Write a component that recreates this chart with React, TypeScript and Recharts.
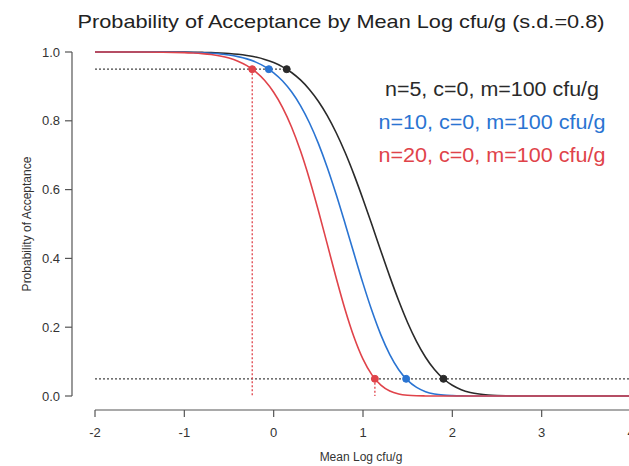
import React from "react";
import { ComposedChart, Line, XAxis, YAxis, ReferenceLine, ReferenceDot } from "recharts";

const meanLog = [-2, -1.5, -1.0, -0.9, -0.8, -0.7, -0.6, -0.5, -0.4, -0.3, -0.2, -0.1, 0.0, 0.1, 0.2, 0.3, 0.4, 0.5, 0.6, 0.7, 0.8, 0.9, 1.0, 1.1, 1.2, 1.3, 1.4, 1.5, 1.6, 1.7, 1.8, 1.9, 2.0, 2.1, 2.2, 2.3, 2.4, 2.5, 2.6, 2.8, 3.0, 3.5, 4.0];
const paN5 = [1.0, 1.0, 0.9996, 0.9993, 0.9988, 0.9982, 0.9971, 0.9956, 0.9933, 0.9899, 0.9852, 0.9785, 0.9693, 0.9569, 0.9404, 0.9188, 0.8913, 0.857, 0.8151, 0.7653, 0.7077, 0.6429, 0.5722, 0.4976, 0.4216, 0.347, 0.2767, 0.213, 0.1581, 0.1127, 0.0769, 0.0502, 0.0313, 0.0185, 0.0104, 0.0056, 0.0028, 0.0013, 0.0006, 0.0001, 0, 0, 0];
const paN10 = [1.0, 1.0, 0.9991, 0.9986, 0.9977, 0.9963, 0.9943, 0.9912, 0.9866, 0.98, 0.9706, 0.9575, 0.9396, 0.9157, 0.8843, 0.8442, 0.7944, 0.7344, 0.6644, 0.5857, 0.5008, 0.4133, 0.3274, 0.2476, 0.1777, 0.1204, 0.0765, 0.0454, 0.025, 0.0127, 0.0059, 0.0025, 0.001, 0.0003, 0.0001, 0, 0, 0, 0, 0, 0, 0, 0];
const paN20 = [1.0, 0.9999, 0.9982, 0.9971, 0.9954, 0.9927, 0.9885, 0.9824, 0.9733, 0.9604, 0.9421, 0.9169, 0.8829, 0.8385, 0.782, 0.7127, 0.6311, 0.5393, 0.4414, 0.3431, 0.2509, 0.1708, 0.1072, 0.0613, 0.0316, 0.0145, 0.0059, 0.0021, 0.0006, 0.0002, 0, 0, 0, 0, 0, 0, 0, 0, 0, 0, 0, 0, 0];

const seriesKeys = ["n5", "n10", "n20"];
const seriesLabels = ["n=5, c=0, m=100 cfu/g", "n=10, c=0, m=100 cfu/g", "n=20, c=0, m=100 cfu/g"];
const seriesColors = ["#2a2a2a", "#2a74d2", "#e0434a"];
const accept95X = [0.146, -0.054, -0.24];
const reject05X = [1.901, 1.483, 1.133];
const xTicks = [-2, -1, 0, 1, 2, 3, 4];
const yTicks = [0, 0.2, 0.4, 0.6, 0.8, 1.0];

const data = meanLog.map((x, i) => ({ x, n5: paN5[i], n10: paN10[i], n20: paN20[i] }));

const FONT = "'Liberation Sans', Arial, sans-serif";
const AXIS_COLOR = "#555";
const TEXT_COLOR = "#333";
const legendWidths = [214, 227, 227];

const YTick = (props: any) => {
  const { x, y, payload } = props;
  return (
    <g>
      <line x1={x - 23} x2={x - 30} y1={y} y2={y} stroke={AXIS_COLOR} strokeWidth={1.2} />
      <text x={x - 35} y={y} dy="0.35em" textAnchor="end" fontSize={13} fill={TEXT_COLOR} fontFamily={FONT}>
        {Number(payload.value).toFixed(1)}
      </text>
    </g>
  );
};

const XTick = (props: any) => {
  const { x, y, payload } = props;
  return (
    <g>
      <line x1={x} x2={x} y1={y + 14} y2={y + 21} stroke={AXIS_COLOR} strokeWidth={1.2} />
      <text x={x} y={y + 41} textAnchor="middle" fontSize={13} fill={TEXT_COLOR} fontFamily={FONT}>
        {payload.value}
      </text>
    </g>
  );
};

export default function App() {
  return (
    <div style={{ position: "fixed", left: 0, top: 0, width: 629, height: 466, overflow: "hidden", background: "#fff" }}>
      <ComposedChart width={640} height={466} data={data} margin={{ top: 52, right: 9, bottom: 0, left: 0 }}>
        <XAxis
          type="number"
          dataKey="x"
          domain={[-2, 4]}
          ticks={xTicks}
          interval={0}
          axisLine={false}
          tickLine={false}
          tickSize={0}
          tickMargin={0}
          height={70}
          tick={<XTick />}
        />
        <YAxis
          type="number"
          domain={[0, 1]}
          ticks={yTicks}
          interval={0}
          axisLine={false}
          tickLine={false}
          tickSize={0}
          tickMargin={0}
          width={95}
          tick={<YTick />}
        />
        <ReferenceLine segment={[{ x: -2.2575, y: 0 }, { x: -2.2575, y: 1 }]} stroke={AXIS_COLOR} strokeWidth={1.2} ifOverflow="visible" />
        <ReferenceLine segment={[{ x: -2, y: -0.0407 }, { x: 4, y: -0.0407 }]} stroke={AXIS_COLOR} strokeWidth={1.2} ifOverflow="visible" />
        <ReferenceLine segment={[{ x: -2, y: 0.95 }, { x: accept95X[0], y: 0.95 }]} stroke="#444" strokeWidth={1.3} strokeDasharray="2 2" ifOverflow="visible" />
        <ReferenceLine segment={[{ x: -2, y: 0.05 }, { x: 4, y: 0.05 }]} stroke="#444" strokeWidth={1.3} strokeDasharray="2 2" ifOverflow="visible" />
        <ReferenceLine segment={[{ x: accept95X[2], y: 0.95 }, { x: accept95X[2], y: 0 }]} stroke={seriesColors[2]} strokeWidth={1.3} strokeDasharray="2 2" ifOverflow="visible" />
        <ReferenceLine segment={[{ x: reject05X[2], y: 0.05 }, { x: reject05X[2], y: 0 }]} stroke={seriesColors[2]} strokeWidth={1.3} strokeDasharray="2 2" ifOverflow="visible" />
        {seriesKeys.map((k, i) => (
          <Line key={k} type="monotone" dataKey={k} stroke={seriesColors[i]} strokeWidth={1.6} dot={false} isAnimationActive={false} />
        ))}
        {seriesKeys.map((k, i) => (
          <ReferenceDot key={"a" + k} x={accept95X[i]} y={0.95} r={3.5} fill={seriesColors[i]} stroke={seriesColors[i]} ifOverflow="visible" />
        ))}
        {seriesKeys.map((k, i) => (
          <ReferenceDot key={"r" + k} x={reject05X[i]} y={0.05} r={3.5} fill={seriesColors[i]} stroke={seriesColors[i]} ifOverflow="visible" />
        ))}
      </ComposedChart>
      <svg width={629} height={466} style={{ position: "absolute", left: 0, top: 0, pointerEvents: "none" }}>
        <text x={341} y={28} textAnchor="middle" fontSize={19} fill="#222" fontFamily={FONT} textLength={527} lengthAdjust="spacingAndGlyphs">
          Probability of Acceptance by Mean Log cfu/g (s.d.=0.8)
        </text>
        {seriesLabels.map((s, i) => (
          <text key={s} x={492} y={96 + i * 33} textAnchor="middle" fontSize={20} fill={seriesColors[i]} fontFamily={FONT} textLength={legendWidths[i]} lengthAdjust="spacingAndGlyphs">
            {s}
          </text>
        ))}
        <text x={31} y={224} transform="rotate(-90 31 224)" textAnchor="middle" fontSize={12} fill={TEXT_COLOR} fontFamily={FONT}>
          Probability of Acceptance
        </text>
        <text x={361} y={461} textAnchor="middle" fontSize={12} fill={TEXT_COLOR} fontFamily={FONT}>
          Mean Log cfu/g
        </text>
      </svg>
    </div>
  );
}
